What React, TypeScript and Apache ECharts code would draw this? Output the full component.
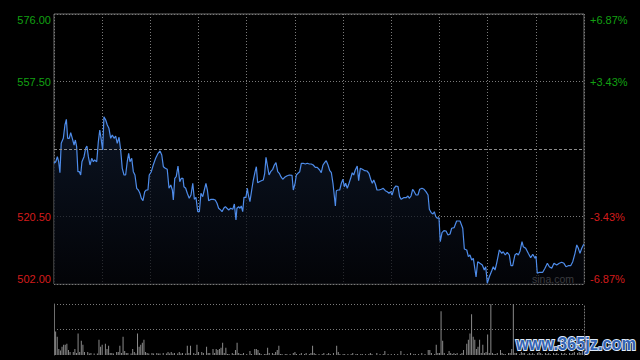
import React, { useEffect, useRef } from 'react';
import * as echarts from 'echarts';

// previous close (centre line)
const prevClose = 539.0;

// minute since open (09:30 .. 16:00, 330 trading minutes) , price
const pricePoints: [number, number][] = [
  [0, 535.08], [1.1, 535.52], [2.1, 536.89], [2.9, 535.52], [3.7, 532.5], [4.5, 540.56], [5.8, 541.93], [6.8, 545.58], [7.7, 547.14], [8.5, 541.93],
  [9.5, 541.93], [10.4, 543.47], [11.4, 541.93], [12.5, 540.1], [13.3, 541.47], [14.1, 539.63], [14.9, 532.78], [15.8, 532.78], [16.6, 531.87], [17.4, 535.52],
  [18.7, 536.89], [19.7, 539.19], [20.5, 539.82], [21.4, 536.89], [22.4, 534.62], [23.5, 536.45], [24.5, 535.52], [25.3, 535.99], [26.6, 535.52], [27.6, 541.0],
  [28.5, 544.21], [29.3, 541.93], [30.3, 538.73], [31.1, 547.85], [32.2, 546.95], [33.2, 545.58], [34.2, 544.67], [35.3, 541.93], [36.3, 542.84], [37.4, 541.93],
  [38.4, 542.56], [39.4, 540.56], [40.5, 542.21], [41.5, 538.73], [42.5, 533.71], [43.6, 531.87], [44.6, 531.87], [45.6, 535.52], [46.5, 537.82], [47.3, 535.52],
  [48.4, 536.45], [49.4, 532.78], [50.4, 531.87], [51.5, 528.23], [52.5, 527.76], [53.5, 526.86], [54.4, 525.49], [55.4, 524.83], [56.5, 527.3], [57.5, 527.76],
  [58.5, 527.76], [59.3, 531.87], [60.6, 532.78], [61.8, 534.62], [63.3, 536.45], [64.8, 537.82], [66.0, 538.45], [67.1, 537.36], [68.1, 534.15], [69.3, 533.71],
  [70.5, 533.44], [71.6, 528.23], [72.7, 529.13], [73.7, 527.76], [74.3, 525.02], [75.2, 530.97], [76.1, 531.41], [77.2, 534.34], [78.3, 530.04], [79.3, 530.97],
  [80.3, 530.97], [80.9, 528.67], [82.0, 528.23], [83.0, 526.86], [84.2, 525.49], [85.3, 526.39], [86.4, 529.6], [87.4, 525.21], [88.4, 525.76], [89.5, 521.82],
  [90.5, 521.82], [91.5, 526.86], [92.6, 525.93], [93.6, 527.76], [94.6, 529.6], [95.5, 527.76], [96.3, 524.83], [97.8, 525.21], [99.2, 525.21], [100.4, 525.02],
  [101.5, 524.12], [102.5, 522.75], [103.8, 522.28], [104.6, 521.82], [105.7, 522.75], [106.7, 523.19], [107.7, 522.75], [108.8, 522.28], [110.0, 522.75], [111.3, 522.47],
  [112.3, 523.93], [113.3, 519.54], [113.9, 522.75], [115.0, 523.19], [115.8, 522.75], [116.6, 523.38], [117.5, 521.82], [118.3, 525.76], [119.5, 525.76], [120.4, 528.23],
  [121.0, 526.39], [122.0, 524.56], [123.1, 527.76], [124.1, 530.5], [125.2, 532.78], [126.0, 534.15], [126.8, 529.76], [127.8, 530.04], [129.1, 530.31], [130.3, 530.5],
  [131.2, 532.34], [132.0, 536.73], [132.8, 534.62], [133.9, 531.87], [134.9, 532.78], [136.2, 533.44], [137.2, 534.62], [138.2, 535.25], [139.3, 532.78], [140.3, 532.34],
  [141.3, 531.41], [142.4, 530.7], [143.6, 531.24], [144.9, 531.6], [146.5, 531.87], [148.2, 531.79], [149.0, 527.76], [150.1, 529.6], [150.9, 531.87], [151.9, 532.34],
  [153.0, 532.78], [154.0, 535.08], [155.2, 535.08], [156.5, 534.89], [157.7, 535.08], [159.0, 534.89], [160.2, 534.89], [161.4, 534.62], [162.7, 533.98], [163.9, 533.98],
  [165.4, 533.24], [166.4, 532.5], [167.5, 534.62], [168.5, 535.25], [169.5, 535.79], [170.6, 534.62], [171.7, 533.05], [172.7, 532.5], [173.7, 529.6], [175.2, 523.38],
  [175.8, 527.57], [176.8, 527.76], [177.9, 527.76], [178.9, 529.6], [179.9, 530.7], [180.8, 528.67], [181.6, 529.6], [182.6, 528.23], [183.7, 529.6], [184.7, 530.97],
  [185.7, 532.5], [186.6, 531.87], [187.6, 533.24], [188.8, 534.34], [189.7, 530.31], [190.7, 533.71], [192.0, 533.44], [193.5, 533.05], [194.9, 532.97], [196.1, 532.34],
  [197.2, 530.7], [198.2, 529.6], [199.1, 530.5], [200.1, 529.41], [201.1, 527.76], [202.4, 527.76], [203.8, 527.96], [205.0, 528.23], [206.3, 527.57], [207.5, 527.3],
  [208.6, 526.86], [209.6, 527.3], [210.5, 526.39], [211.7, 528.23], [212.9, 528.86], [214.2, 528.67], [215.2, 525.93], [216.2, 525.21], [217.7, 525.65], [219.2, 525.65],
  [220.4, 526.12], [221.2, 525.49], [222.3, 526.12], [223.3, 527.96], [224.3, 527.3], [225.4, 526.39], [226.6, 526.39], [227.7, 527.96], [229.1, 528.23], [230.4, 527.96],
  [231.6, 527.3], [232.9, 526.39], [233.7, 522.47], [234.9, 521.54], [236.0, 521.19], [236.8, 521.82], [237.7, 520.45], [238.7, 520.01], [239.7, 520.17], [240.5, 513.59],
  [241.6, 516.06], [242.8, 516.61], [244.1, 516.53], [245.3, 515.43], [246.6, 515.7], [247.6, 517.27], [249.1, 517.43], [250.7, 519.27], [252.8, 519.27], [254.5, 517.27],
  [255.5, 511.59], [257.0, 511.32], [258.0, 509.48], [259.0, 509.95], [260.1, 508.58], [261.1, 509.04], [262.8, 503.92], [263.8, 508.11], [265.2, 507.67], [266.7, 507.21],
  [267.9, 505.84], [268.8, 506.74], [269.8, 502.19], [271.0, 503.92], [272.5, 505.56], [273.5, 506.74], [274.6, 505.84], [275.6, 507.67], [277.3, 511.32], [278.8, 510.41],
  [279.7, 510.85], [281.0, 509.95], [282.2, 510.69], [283.5, 509.95], [284.5, 507.02], [285.6, 507.02], [287.0, 509.95], [288.1, 510.41], [289.1, 509.95], [290.2, 511.05],
  [291.4, 513.59], [292.2, 512.22], [293.7, 511.78], [295.3, 510.41], [296.8, 509.21], [298.1, 510.14], [299.5, 509.04], [300.1, 509.67], [300.9, 504.93], [302.2, 505.21],
  [304.3, 505.21], [305.7, 506.3], [307.2, 507.67], [308.4, 506.74], [309.9, 506.3], [311.3, 507.67], [313.0, 507.21], [314.6, 507.67], [316.1, 507.95], [317.5, 507.67],
  [318.8, 506.74], [320.2, 507.02], [321.7, 507.02], [323.0, 508.11], [324.4, 510.41], [325.5, 512.69], [326.5, 511.78], [327.5, 510.41], [328.6, 511.78], [329.6, 512.69],
  [330, 512.88],
];

// minute since open, volume (relative units)
const volumePoints: [number, number][] = [
  [1, 46], [2, 36], [3, 12], [4, 9], [5, 16], [6, 20], [7, 20], [8, 22], [9, 10], [10, 6], [12, 6], [13, 12], [14, 4], [15, 42], [16, 6], [17, 28], [18, 20], [19, 6],
  [21, 6], [22, 3], [23, 4], [25, 3], [27, 3], [28, 30], [29, 16], [30, 20], [32, 22], [33, 12], [34, 18], [35, 4], [36, 4], [37, 3], [39, 6], [40, 6], [41, 18],
  [42, 4], [43, 36], [44, 8], [45, 4], [46, 4], [48, 3], [49, 12], [50, 6], [51, 3], [52, 42], [53, 16], [54, 20], [55, 24], [56, 30], [57, 6], [58, 4], [59, 3],
  [61, 4], [62, 3], [64, 4], [65, 3], [66, 3], [68, 4], [70, 3], [71, 6], [72, 3], [73, 6], [74, 3], [75, 4], [77, 3], [78, 6], [79, 3], [80, 4], [82, 3], [83, 18],
  [84, 4], [85, 18], [87, 4], [88, 2], [89, 20], [90, 6], [92, 6], [93, 4], [95, 16], [96, 4], [97, 4], [99, 12], [100, 4], [101, 12], [102, 10], [103, 12], [104, 14],
  [105, 24], [106, 4], [107, 14], [108, 2], [109, 2], [111, 4], [112, 2], [113, 10], [114, 24], [115, 4], [116, 2], [117, 2], [118, 4], [120, 2], [122, 8], [123, 2],
  [125, 12], [126, 12], [127, 10], [128, 4], [129, 2], [131, 2], [132, 2], [133, 14], [134, 4], [136, 4], [137, 2], [138, 6], [139, 10], [140, 18], [141, 2], [142, 2],
  [144, 2], [145, 2], [147, 2], [149, 4], [150, 6], [151, 2], [153, 2], [154, 4], [156, 2], [157, 4], [159, 2], [160, 4], [161, 18], [162, 4], [163, 2], [165, 2],
  [167, 2], [168, 4], [170, 2], [171, 4], [172, 2], [174, 4], [176, 18], [177, 6], [178, 2], [180, 2], [181, 2], [183, 2], [185, 2], [186, 4], [188, 2], [189, 2],
  [191, 2], [192, 2], [194, 2], [196, 2], [197, 4], [198, 2], [201, 4], [203, 2], [205, 2], [206, 8], [208, 2], [210, 2], [212, 2], [214, 2], [216, 8], [218, 2],
  [220, 2], [222, 4], [224, 2], [225, 2], [227, 2], [229, 4], [231, 2], [233, 10], [234, 10], [235, 4], [237, 2], [238, 20], [239, 4], [240, 4], [241, 86], [242, 28],
  [243, 4], [245, 2], [246, 8], [247, 4], [248, 2], [249, 4], [250, 2], [251, 4], [253, 2], [254, 4], [255, 10], [257, 22], [258, 30], [259, 42], [260, 80], [261, 36],
  [262, 30], [263, 12], [264, 16], [265, 30], [266, 4], [267, 20], [268, 4], [269, 6], [270, 40], [271, 4], [272, 130], [273, 4], [274, 2], [275, 2], [276, 4],
  [278, 10], [279, 4], [280, 2], [281, 2], [283, 4], [284, 4], [285, 12], [286, 130], [287, 4], [288, 4], [290, 2], [291, 6], [292, 4], [293, 4], [295, 2], [296, 4],
  [297, 2], [298, 4], [299, 2], [301, 4], [302, 6], [303, 4], [304, 2], [306, 4], [307, 2], [308, 4], [309, 2], [311, 4], [312, 2], [313, 4], [314, 2], [316, 4],
  [317, 2], [318, 4], [319, 2], [321, 4], [322, 2], [323, 4], [324, 6], [326, 4], [327, 6], [328, 4], [329, 8],
];

// change-from-close ticks and the right-hand percentage labels
const changeTicks = [-37, -18.5, 0, 18.5, 37];
const pctLabels = ['-6.87%', '-3.43%', '', '+3.43%', '+6.87%'];

const GREEN = '#12a012';
const RED = '#d41c1c';
const GRID = '#7a7a7a';
const BORDER = '#6e6e6e';

export default function App() {
  const ref = useRef<HTMLDivElement>(null);

  useEffect(() => {
    if (!ref.current) return;
    const chart = echarts.init(ref.current, null, { renderer: 'svg' });

    const lineData = pricePoints.map(([m, p]) => [m, +(p - prevClose).toFixed(2)]);
    const volData = volumePoints.map(([m, v]) => [m, v]);
    const tickIndex = (v: number) => changeTicks.findIndex((t) => Math.abs(t - v) < 1e-6);

    chart.setOption({
      animation: false,
      backgroundColor: '#000000',
      grid: [
        { left: 54, top: 14, width: 530, height: 270, show: true, borderColor: BORDER, borderWidth: 1, backgroundColor: 'transparent' },
        { left: 54, top: 304, width: 530, height: 51 },
      ],
      xAxis: [
        {
          type: 'value', gridIndex: 0, min: 0, max: 330, interval: 30,
          axisLabel: { show: false }, axisTick: { show: false }, axisLine: { show: false },
          splitLine: { show: true, lineStyle: { color: GRID, type: [1, 2], width: 1 } },
        },
        {
          type: 'value', gridIndex: 1, min: 0, max: 330, interval: 30,
          axisLabel: { show: false }, axisTick: { show: false }, axisLine: { show: false },
          splitLine: { show: false },
        },
      ],
      yAxis: [
        {
          type: 'value', gridIndex: 0, position: 'left', min: -37, max: 37, interval: 18.5,
          axisLine: { show: false }, axisTick: { show: false },
          splitLine: { show: true, lineStyle: { color: [GRID, GRID, 'rgba(0,0,0,0)', GRID, GRID], type: [1, 2], width: 1 } },
          axisLabel: {
            margin: 3, fontSize: 11, fontFamily: 'Arial, "Liberation Sans", sans-serif',
            formatter: (v: number) => (Math.abs(v) < 1e-6 ? '' : (prevClose + v).toFixed(2)),
            color: (v: any) => (Number(v) > 0 ? GREEN : RED),
            verticalAlignMinLabel: 'bottom', verticalAlignMaxLabel: 'top',
          },
        },
        {
          type: 'value', gridIndex: 0, position: 'right', min: -37, max: 37, interval: 18.5,
          axisLine: { show: false }, axisTick: { show: false }, splitLine: { show: false },
          axisLabel: {
            margin: 6, fontSize: 11, fontFamily: 'Arial, "Liberation Sans", sans-serif',
            formatter: (v: number) => { const i = tickIndex(v); return i >= 0 ? pctLabels[i] : ''; },
            color: (v: any) => (Number(v) > 0 ? GREEN : RED),
            verticalAlignMinLabel: 'bottom', verticalAlignMaxLabel: 'top',
          },
        },
        {
          type: 'value', gridIndex: 1, position: 'left', min: 0, max: 100, interval: 50,
          axisLine: { show: true, lineStyle: { color: BORDER, width: 1 } }, axisTick: { show: false },
          axisLabel: { show: false },
          splitLine: { show: true, lineStyle: { color: ['rgba(0,0,0,0)', GRID, GRID], type: [1, 2], width: 1 } },
        },
        {
          type: 'value', gridIndex: 1, position: 'right', min: 0, max: 100, interval: 50,
          axisLine: { show: true, lineStyle: { color: GRID, width: 1, type: [1, 2] } }, axisTick: { show: false },
          axisLabel: { show: false }, splitLine: { show: false },
        },
      ],
      series: [
        {
          type: 'line', xAxisIndex: 0, yAxisIndex: 0, data: lineData,
          showSymbol: false, symbol: 'none', silent: true,
          lineStyle: { color: '#4e8cea', width: 1.2 },
          areaStyle: {
            origin: 'start',
            color: new echarts.graphic.LinearGradient(0, 0, 0, 1, [
              { offset: 0, color: '#101c31' },
              { offset: 1, color: '#04050a' },
            ]),
          },
          markLine: {
            silent: true, symbol: 'none', label: { show: false },
            lineStyle: { color: '#8c8c8c', type: [3, 2], width: 1 },
            data: [{ yAxis: 0 }],
          },
          z: 3,
        },
        {
          type: 'bar', xAxisIndex: 1, yAxisIndex: 2, data: volData,
          barWidth: 1, silent: true,
          itemStyle: { color: '#8a8a8a' },
        },
      ],
      graphic: [
        {
          type: 'text', left: 532, top: 273, silent: true,
          style: { text: 'sina.com', fill: '#b4b4b4', font: '10.5px Arial, "Liberation Sans", sans-serif' },
        },
        {
          type: 'text', x: 516, y: 344, silent: true, scaleX: 0.86,
          style: {
            text: 'www.365jz.com', fill: '#3464b4', stroke: '#dce8f8', lineWidth: 2,
            font: 'bold 19px "Liberation Sans", Arial, sans-serif', verticalAlign: 'middle', align: 'left',
          },
        },
      ],
    });

    return () => chart.dispose();
  }, []);

  return <div ref={ref} style={{ position: 'absolute', left: 0, top: 0, width: 640, height: 360 }} />;
}
